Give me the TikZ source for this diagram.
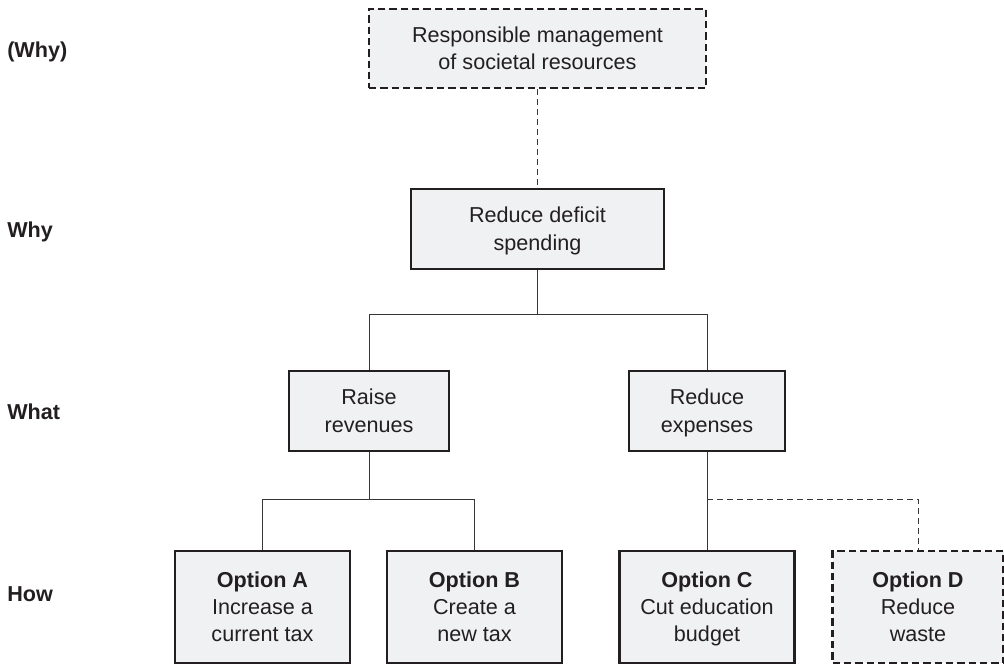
\documentclass[tikz,border=0pt]{standalone}
\usepackage{fontspec}
\setmainfont{Liberation Sans}
\definecolor{boxfill}{HTML}{F0F1F3}
\definecolor{ink}{HTML}{231F20}
% one line of box text, with a strut so every box centres its lines alike
\newcommand{\bxline}[1]{\rule[-0.23\baselineskip]{0pt}{\baselineskip}#1}
\begin{document}
\begin{tikzpicture}[x=0.75pt,y=-0.75pt,
  box/.style={draw=ink,fill=boxfill,line width=2pt,inner sep=0pt,align=center,
    font=\fontsize{16.2}{20.5}\selectfont,text=ink},
  dbox/.style={box,dash pattern=on 5.5pt off 3pt},
  conn/.style={draw=ink!90,line width=0.75pt},
  dconn/.style={conn,dash pattern=on 4.5pt off 3pt},
  lvl/.style={anchor=west,font=\fontsize{16.2}{18}\selectfont\bfseries,text=ink,inner sep=0pt}]
\useasboundingbox (0,0) rectangle (1004,665);

% level labels
\node[lvl] (l0) at (7,52) {(Why)};
\node[lvl] (l1) at (7,232) {Why};
\node[lvl] (l2) at (7,412) {What};
\node[lvl] (l3) at (7,594) {How};

% boxes
\node[dbox,minimum width=252.75pt,minimum height=59.25pt] (top) at (537.5,48.5)
  {\bxline{Responsible management}\\\bxline{of societal resources}};
\node[box,minimum width=189.75pt,minimum height=60pt] (deficit) at (537.5,229)
  {\bxline{Reduce deficit}\\\bxline{spending}};
\node[box,minimum width=120pt,minimum height=60pt] (raise) at (369,411)
  {\bxline{Raise}\\\bxline{revenues}};
\node[box,minimum width=117pt,minimum height=60pt] (expenses) at (707,411)
  {\bxline{Reduce}\\\bxline{expenses}};
\node[box,minimum width=131.25pt,minimum height=84pt] (optA) at (262.5,607)
  {\bxline{\textbf{Option A}}\\\bxline{Increase a}\\\bxline{current tax}};
\node[box,minimum width=131.25pt,minimum height=84pt] (optB) at (474.5,607)
  {\bxline{\textbf{Option B}}\\\bxline{Create a}\\\bxline{new tax}};
\node[box,minimum width=131.25pt,minimum height=84pt] (optC) at (707,607)
  {\bxline{\textbf{Option C}}\\\bxline{Cut education}\\\bxline{budget}};
\node[dbox,minimum width=128.25pt,minimum height=84pt] (optD) at (918,607)
  {\bxline{\textbf{Option D}}\\\bxline{Reduce}\\\bxline{waste}};

% branch levels
\coordinate (b1) at (537.5,314);
\coordinate (b2) at (369,499);

% connectors
\draw[dconn] (top.south) -- (deficit.north);
\draw[conn] (deficit.south) -- (deficit.south |- b1) -| (raise.north);
\draw[conn] (deficit.south |- b1) -| (expenses.north);
\draw[conn] (raise.south) -- (raise.south |- b2) -| (optA.north);
\draw[conn] (raise.south |- b2) -| (optB.north);
\draw[conn] (expenses.south) -- (optC.north);
\draw[dconn] (expenses.south |- b2) -| (optD.north);
\end{tikzpicture}
\end{document}
